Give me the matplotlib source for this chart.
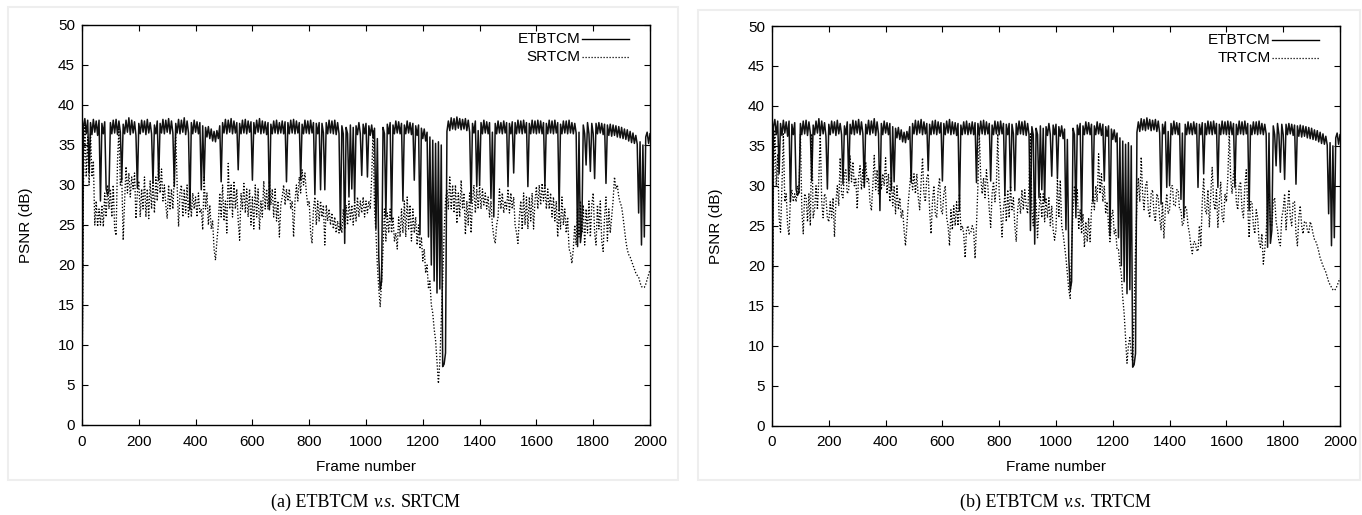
import numpy as np
import matplotlib
matplotlib.use("Agg")
import matplotlib.pyplot as plt
from matplotlib.patches import Rectangle
from matplotlib.offsetbox import TextArea, HPacker, AnnotationBbox

plt.rcParams['font.family'] = ['Liberation Sans', 'DejaVu Sans']

# ---------------- data (PSNR in dB, one value every 5 frames) ----------------
frame_step = 5
frames = np.arange(0, 2001, frame_step)

etbtcm = [
    3, 37.4, 38.3, 36.4, 38.1, 31.5, 37.8, 36.3, 38.2, 36.6, 38.0, 36.2, 38.1, 28.0, 37.7, 36.4, 37.9, 29.5, 28.8, 29.2,
    37.8, 36.4, 38.1, 36.5, 38.2, 36.3, 38.0, 36.6, 30.6, 37.6, 36.4, 38.1, 36.6, 38.4, 36.3, 38.1, 36.5, 37.9, 36.2, 29.6,
    37.7, 36.4, 38.1, 36.6, 38.0, 36.3, 38.2, 36.5, 37.8, 36.4, 30.2, 37.5, 36.4, 38.0, 30.6, 37.7, 36.5, 38.2, 36.4, 38.1,
    36.6, 38.3, 36.4, 38.0, 36.5, 29.8, 37.7, 36.5, 38.2, 36.4, 38.1, 36.6, 38.4, 36.3, 38.0, 36.5, 26.9, 37.8, 36.4, 38.1,
    36.6, 37.9, 36.4, 37.8, 29.4, 37.4, 30.5, 37.2, 36.0, 37.3, 35.8, 37.0, 35.5, 36.7, 35.4, 36.8, 35.8, 37.4, 30.4, 37.8,
    36.5, 38.2, 36.4, 38.1, 36.6, 38.3, 36.4, 38.0, 36.5, 37.8, 31.9, 37.7, 36.4, 38.1, 36.5, 38.2, 36.4, 38.0, 36.6, 37.9,
    30.6, 37.8, 36.4, 38.1, 36.6, 38.3, 36.4, 38.0, 36.5, 37.9, 36.3, 37.8, 26.9, 37.6, 36.4, 38.0, 36.5, 38.1, 36.4, 37.8,
    36.5, 38.0, 36.4, 37.9, 30.4, 37.8, 36.4, 38.1, 36.5, 38.2, 36.4, 38.0, 36.5, 37.8, 30.6, 37.6, 36.4, 38.1, 36.5, 38.0,
    36.4, 38.1, 36.5, 37.8, 28.8, 37.7, 36.4, 37.8, 29.4, 37.7, 36.5, 29.4, 37.8, 36.4, 38.1, 36.5, 38.0, 36.4, 38.1, 36.3,
    37.8, 36.4, 24.4, 37.4, 36.4, 22.7, 37.2, 36.4, 28.5, 37.5, 29.5, 37.2, 28.0, 37.4, 36.3, 37.8, 36.4, 31.2, 37.6, 36.4,
    37.7, 31.0, 37.4, 36.2, 37.5, 35.9, 37.1, 24.5, 35.8, 21.0, 16.9, 18.0, 37.2, 36.4, 26.0, 37.6, 36.4, 37.8, 25.6, 37.5,
    36.4, 38.0, 36.5, 37.9, 36.4, 37.7, 28.0, 37.5, 36.4, 38.0, 36.5, 37.8, 36.3, 37.7, 30.6, 37.4, 36.2, 37.5, 23.8, 37.1,
    35.8, 37.0, 35.5, 36.6, 23.5, 36.0, 20.0, 35.6, 18.0, 35.2, 16.5, 35.4, 17.0, 35.0, 7.3, 7.6, 9.0, 36.7, 38.0, 36.8,
    38.4, 37.0, 38.3, 36.9, 38.5, 37.1, 38.3, 36.9, 38.2, 37.0, 38.3, 36.8, 38.1, 36.6, 27.7, 37.7, 36.5, 38.0, 29.8, 36.8,
    30.0, 37.8, 36.4, 38.1, 36.5, 37.9, 36.4, 37.8, 28.3, 36.6, 26.0, 37.7, 36.4, 38.0, 36.5, 37.8, 36.4, 38.0, 36.5, 37.8,
    29.8, 37.7, 36.4, 37.9, 31.5, 37.8, 36.4, 38.1, 36.5, 38.0, 36.4, 38.1, 36.5, 37.8, 29.8, 37.7, 36.4, 38.1, 36.5, 38.0,
    36.4, 38.1, 36.5, 38.0, 36.4, 37.8, 29.8, 37.7, 36.4, 38.1, 36.5, 38.0, 36.4, 38.1, 36.5, 37.8, 26.9, 37.6, 36.4, 38.0,
    36.5, 38.0, 36.4, 38.1, 36.5, 37.8, 36.4, 37.7, 36.5, 22.3, 36.6, 22.8, 24.4, 37.5, 36.4, 32.5, 37.8, 36.4, 31.7, 37.7,
    36.4, 30.8, 37.7, 36.4, 37.8, 36.5, 37.7, 36.3, 37.6, 30.2, 37.5, 36.2, 37.6, 36.1, 37.5, 36.2, 37.4, 36.0, 37.3, 35.9,
    37.2, 35.8, 37.0, 35.7, 36.9, 35.5, 36.7, 35.3, 36.5, 35.2, 36.2, 35.1, 26.5, 35.4, 22.5, 35.0, 23.5, 36.0, 36.6, 35.2,
    36.4,
]

srtcm = [
    3, 30, 37.5, 31, 36, 30, 36.5, 31, 33, 25, 28, 24.8, 27, 25, 27.5, 24.8, 29, 26, 30, 27,
    29.5, 26, 30, 24.5, 23.7, 33, 37, 30, 31, 23.1, 28, 32.3, 29, 31.5, 28.5, 31, 29.5, 31.5, 25.8, 29,
    30.5, 26, 29.5, 27, 31, 26, 29.5, 25.8, 30.5, 27, 30.5, 26.5, 31, 28, 32.8, 29, 32, 28, 30, 27.5,
    25.8, 30, 27, 29.5, 27, 31, 36.5, 30, 24.8, 29, 30, 26, 29.5, 26.5, 30, 26, 29.5, 26, 29, 27,
    28.5, 26, 29, 26.5, 27, 24.4, 31, 27, 29, 25, 27.5, 24.5, 25.5, 22, 20.6, 23, 25, 29, 26, 30,
    25.5, 28, 24, 32.7, 27, 30, 26, 30.5, 27, 29.5, 25.5, 23.1, 29, 27, 30.2, 26.5, 29.5, 26, 29.5, 25,
    28.5, 24.5, 30, 26, 29.5, 24.4, 28, 26, 30.5, 27, 29.5, 27, 30.5, 27.5, 29.5, 26, 29.5, 25.5, 28, 23.5,
    27.5, 28.5, 30, 27.5, 29.5, 28, 29.5, 27, 28, 23.5, 28, 30, 28, 31, 29, 31.9, 30, 31.5, 29, 27.5,
    28, 24, 22.7, 27, 28.5, 25, 28, 25.5, 28, 26, 27.5, 22.5, 27.5, 25.5, 27, 25, 26.5, 24.5, 26, 24,
    25.5, 24, 25.5, 24, 27, 24.5, 27.5, 25, 28, 25.5, 27.5, 25, 28, 25.5, 28.5, 26, 28, 26.5, 28.5, 26,
    28, 26.5, 28, 27, 31, 36.9, 27, 24, 20, 17, 14.8, 18, 22, 27, 23, 26.5, 24, 27, 24, 26,
    23, 24, 22, 26, 23.5, 27, 24, 28, 23.5, 28.5, 24.5, 27.5, 23, 27, 24, 26, 22.5, 25, 22, 23.5,
    20.5, 22, 19, 20, 17, 18, 15, 14, 12, 10.6, 8, 5.2, 8, 13, 18, 24, 28, 29.4, 27, 31,
    27, 30, 26.5, 30, 25.2, 29, 26, 30.6, 27, 29, 23.8, 28, 25, 29, 24, 28, 30, 26.5, 29.5, 27,
    30, 27, 29.5, 27.5, 29, 27, 28.5, 26, 28, 25, 23.5, 22.7, 25, 26, 29.5, 27, 29, 26.5, 28, 27,
    29.5, 26.5, 29, 27, 28.5, 25, 24, 22.7, 26, 28, 24.4, 29, 25, 28.5, 24.5, 28.5, 25.5, 29, 24.5, 28,
    29.8, 27, 30, 27.5, 30.2, 28, 30, 27, 29.5, 27, 29, 26, 28.5, 25.5, 28, 23.5, 27, 24.5, 28.5, 25,
    27, 24, 26, 22, 21.5, 20.2, 22, 25, 22.5, 27, 23.5, 28, 24, 27.5, 22.5, 27, 24, 28, 23.5, 27.5,
    29, 24, 22.5, 27.5, 24.5, 28, 23, 21.7, 26, 28.5, 23, 27, 24, 26, 28, 31, 29.5, 30, 28.5, 27.8,
    27.3, 26, 24.5, 23, 21.9, 21.3, 21, 20.5, 20, 19.5, 19, 18.7, 18.5, 17.8, 17.3, 17.2, 17.2, 17.6, 18.2, 18.8,
    19.4,
]

trtcm = [
    3, 30, 37, 30, 34, 26, 24.2, 30, 36.5, 28, 29, 25, 23.8, 28.5, 29.5, 28, 29, 28, 30, 29,
    36.5, 27, 24, 29, 28.5, 25.5, 29, 25, 36.5, 26, 27, 30, 27, 31, 36.5, 28, 26, 29, 28.5, 26,
    25.5, 28, 26, 28.5, 23.6, 28, 30, 27.5, 33.5, 29, 28.5, 31.5, 32, 29, 29.5, 33.8, 30.5, 33, 30, 31,
    27.1, 31, 32.5, 29.5, 32, 30, 33, 30.5, 31, 28, 26.9, 30, 33.8, 29.5, 32, 29, 32.5, 29.5, 31.5, 30,
    33.5, 29, 31.5, 28, 31, 27.5, 30, 26.5, 30, 27, 28.5, 26, 27, 24.5, 22.5, 25, 28, 30, 32, 29.5,
    31.5, 29, 31.5, 28.5, 27, 30.5, 33.5, 29, 28, 31, 31.5, 27, 24, 28, 30, 26.5, 26, 29.5, 31, 27,
    26.5, 29, 30, 26, 25, 22.5, 27, 24.5, 27.5, 25, 28, 25, 29, 24.5, 25, 24, 21, 24.5, 25, 24,
    24.2, 25, 24.5, 20.9, 25, 30, 36.5, 31, 29, 31, 28.5, 32, 30, 27, 24.8, 29, 30.5, 28, 30, 36.5,
    29, 27, 23.6, 27, 29, 25.5, 29.5, 26, 30, 27, 28.5, 25, 23, 27, 28.5, 26.5, 29.5, 27, 29.5, 27.5,
    26.5, 30, 36.5, 27, 25, 29, 28, 23.5, 27, 29, 26, 29, 25.5, 28.5, 26, 28.5, 25, 27.5, 24.5, 23.2,
    24.5, 31, 26, 30.7, 25, 24, 22.5, 21, 19, 17, 15.9, 22, 27, 30, 27.5, 29.5, 24.5, 27, 24, 26.5,
    22.3, 25.5, 23, 26, 23, 27, 29, 27, 30, 28, 34, 29, 31.5, 28, 30, 26.5, 28, 25, 23, 26,
    27, 24, 24.5, 22, 22, 20, 19, 16, 14, 11, 7.8, 10, 11, 9, 8, 14, 22, 28, 31, 28,
    33.6, 29, 27, 30, 30.5, 27, 26, 29, 29.5, 26.5, 25.5, 29, 28.5, 26, 24.5, 28, 23.4, 27, 29, 26.5,
    27, 30, 30, 27.5, 27.5, 29.5, 29.5, 27, 27, 25, 25.5, 27.5, 27, 25, 24, 22.5, 21.5, 23, 23, 22,
    21.8, 25, 22.5, 28, 31, 27, 26.5, 29.5, 24.8, 29, 32.3, 28, 27, 29.5, 24.8, 28, 30.5, 26, 25.5, 29,
    28, 31, 36.7, 31, 29, 31.5, 32.5, 28, 27, 30, 30.5, 27, 26, 30, 32, 27.5, 23.5, 28, 28, 25,
    24, 27, 26, 23, 22.3, 24, 20.2, 22, 24, 28, 29, 25, 25, 28, 28.5, 25.5, 24.5, 23, 22.5, 26,
    27, 29, 24.5, 27, 29.5, 26, 25, 28, 28, 24, 22.5, 26, 27.5, 25, 24, 25.5, 25.5, 24.5, 24, 25.5,
    25, 24, 23.3, 23, 22.5, 21.8, 21, 20.5, 20, 19.6, 19.2, 18.6, 18, 17.6, 17.3, 17, 16.9, 17.1, 17.5, 18,
    18.4,
]

x_ticks = list(range(0, 2001, 200))
y_ticks = list(range(0, 51, 5))
panels = [
    ("SRTCM", srtcm, "(a)", "SRTCM"),
    ("TRTCM", trtcm, "(b)", "TRTCM"),
]

# ---------------- figure ----------------
W, H = 1362, 515
fig = plt.figure(figsize=(W / 100, H / 100), dpi=100)

def px_rect(x0, y0, x1, y1):
    return [x0 / W, 1 - y1 / H, (x1 - x0) / W, (y1 - y0) / H]

axes_px = [(82, 25, 650, 425), (772, 26, 1340, 425.5)]
frame_px = [(8, 7, 678, 480), (698, 10, 1360, 480)]
dotted = (0, (1.0, 1.4))

for (name, other, tag, cap_name), apx, fpx in zip(panels, axes_px, frame_px):
    fr = px_rect(*fpx)
    fig.patches.append(Rectangle((fr[0], fr[1]), fr[2], fr[3], transform=fig.transFigure,
                                 facecolor='none', edgecolor='#eeeeee', linewidth=1.5, zorder=0))
    ax = fig.add_axes(px_rect(*apx))
    ax.plot(frames, etbtcm, color='#111111', linewidth=1.1)
    ax.plot(frames, other, color='black', linewidth=0.95, linestyle=dotted)
    ax.set_xlim(0, 2000)
    ax.set_ylim(0, 50)
    ax.set_xticks(x_ticks)
    ax.set_yticks(y_ticks)
    ax.tick_params(direction='in', top=True, right=True, length=4.5, width=0.8,
                   labelsize=11, colors='black')
    ax.tick_params(axis='x', pad=7)
    ax.tick_params(axis='y', pad=5)
    for s in ax.spines.values():
        s.set_linewidth(1.0)
    ax.set_xlabel("Frame number", fontsize=11, labelpad=8)
    ax.set_ylabel("PSNR (dB)", fontsize=11, labelpad=18)

    # legend (gnuplot style: right aligned text followed by line sample)
    for yy, lab, ls in [(0.965, "ETBTCM", '-'), (0.92, name, dotted)]:
        ax.text(0.878, yy, lab, transform=ax.transAxes, ha='right', va='center', fontsize=11)
        ax.plot([0.88, 0.963], [yy, yy], transform=ax.transAxes, color='black',
                linewidth=1.0 if ls == '-' else 0.9, linestyle=ls, clip_on=False)

    serif = dict(family='Liberation Serif', size=13, color='black')
    box = HPacker(children=[TextArea(tag + " ETBTCM", textprops=serif),
                            TextArea("v.s.", textprops=dict(serif, style='italic')),
                            TextArea(cap_name, textprops=serif)],
                  align='baseline', pad=0, sep=3.5)
    cx = (apx[0] + apx[2]) / 2 / W
    ab = AnnotationBbox(box, (cx, 1 - 502 / H), xycoords='figure fraction',
                        frameon=False, box_alignment=(0.5, 0.5), pad=0)
    fig.add_artist(ab)

fig.savefig("out.png", dpi=100, facecolor='white')
